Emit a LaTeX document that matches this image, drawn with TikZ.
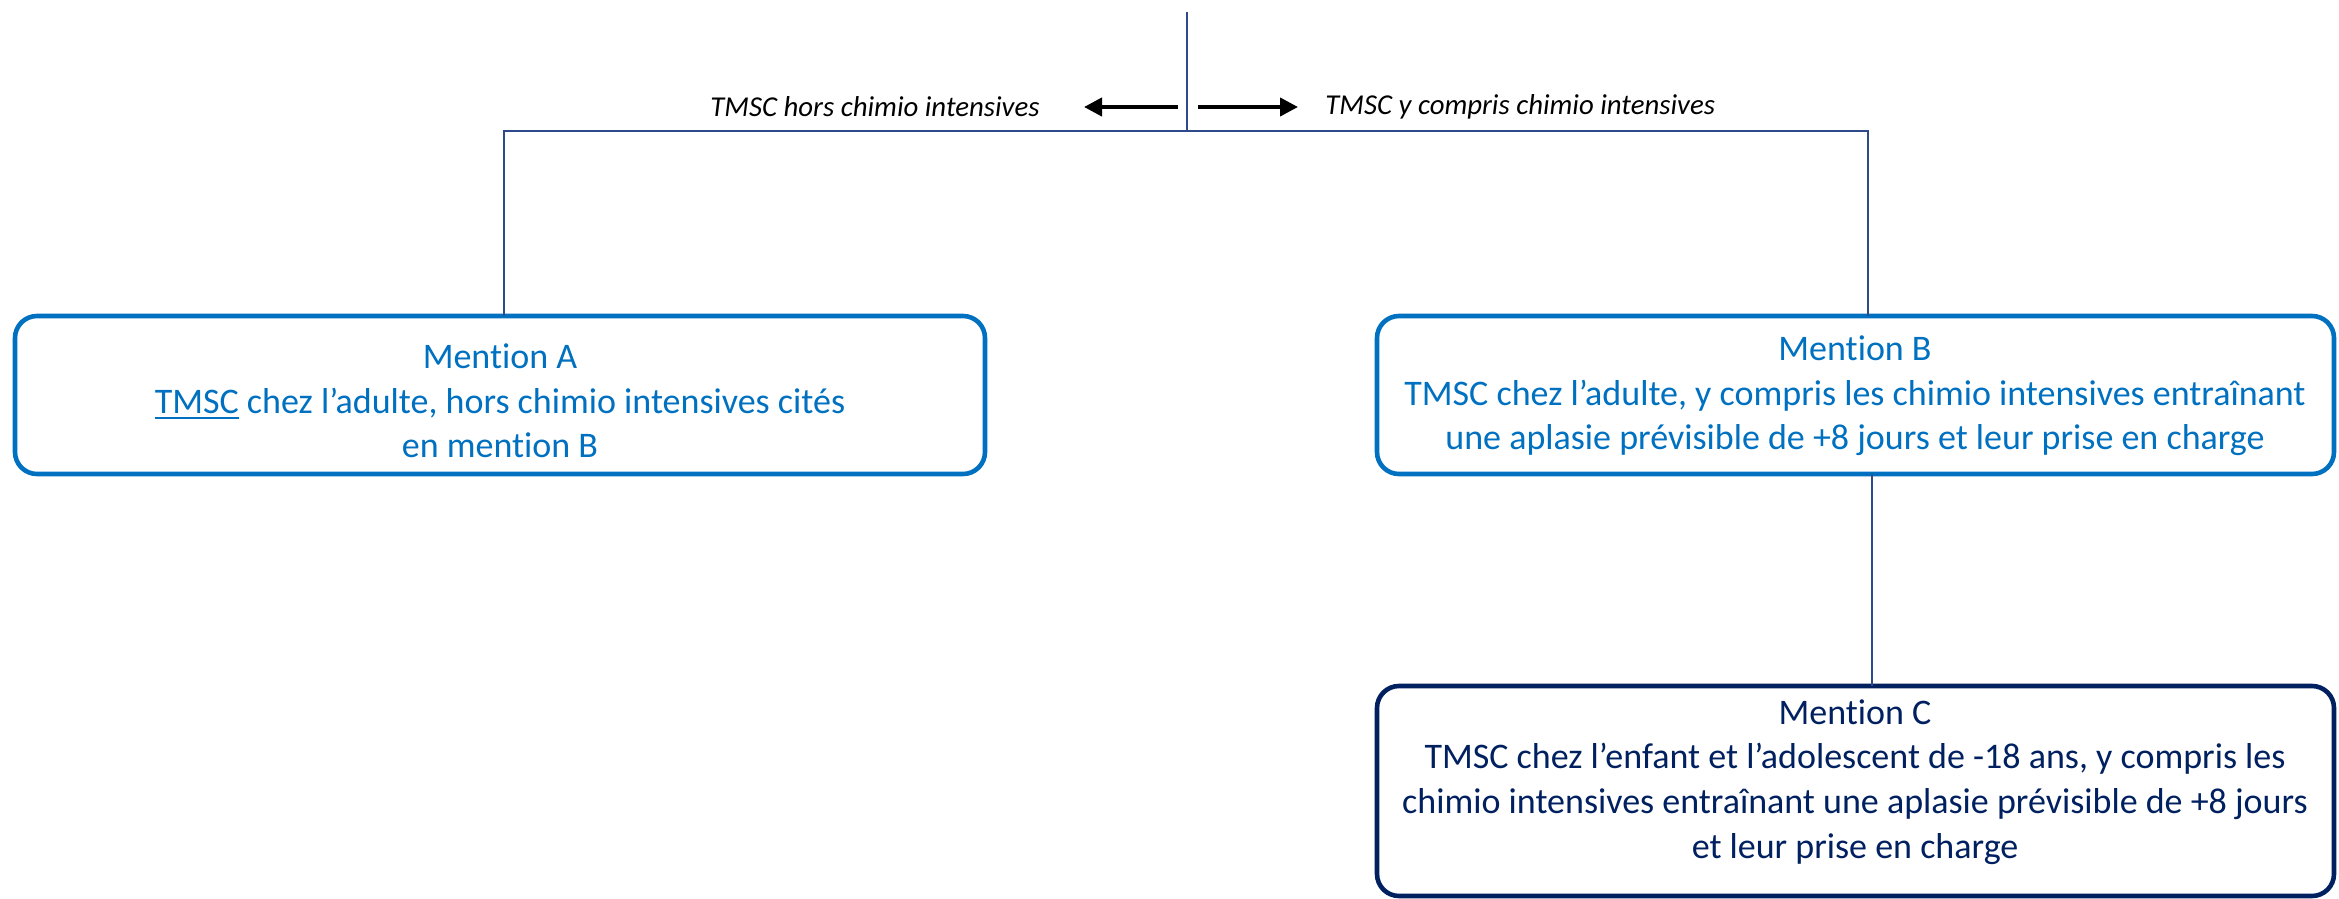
\documentclass[tikz,border=0pt]{standalone}
\usepackage{fontspec}
\setmainfont{Carlito}[Ligatures=NoCommon]
\usetikzlibrary{arrows.meta}
\definecolor{boxblue}{HTML}{0070C0}
\definecolor{navy}{HTML}{002060}
\definecolor{linecol}{HTML}{2F4A8A}
\newcommand\thickul[1]{\setbox0\hbox{#1}\rlap{\rule[-2.8pt]{\wd0}{0.9pt}}\box0\relax}
\begin{document}
\begin{tikzpicture}[x=0.5pt,y=-0.5pt,
  mbox/.style={draw=boxblue,line width=2.3pt,rounded corners=11pt},
  mtext/.style={align=center,font=\fontsize{18}{22.3}\selectfont,inner sep=0pt},
  conn/.style={draw=linecol,line width=1pt},
  lab/.style={font=\fontsize{14.4}{16}\selectfont\itshape,inner sep=0pt},
  arr/.style={line width=2pt,-{Triangle[length=9pt,width=9pt]}}]
\useasboundingbox (0,0) rectangle (2339,899);
% boxes
\draw[mbox] (15,316) rectangle (985,474);
\node[inner sep=0pt] (A) at (500,395) {};
\draw[mbox] (1377,316) rectangle (2334,474);
\node[inner sep=0pt] (B) at (1855,395) {};
\draw[mbox,draw=navy] (1377,686) rectangle (2334,896);
\node[inner sep=0pt] (C) at (1855,791) {};
% texts
\node[mtext,text=boxblue] (tA) at (500,401) {Mention A\\\thickul{TMSC} chez l’adulte, hors chimio intensives cités\\en mention B};
\node[mtext,text=boxblue] (tB) at (1855,396) {Mention B\\TMSC chez l’adulte, y compris les chimio intensives entraînant\\une aplasie prévisible de +8 jours et leur prise en charge};
\node[mtext,text=navy] (tC) at (1855,782) {Mention C\\TMSC chez l’enfant et l’adolescent de -18 ans, y compris les\\chimio intensives entraînant une aplasie prévisible de +8 jours\\et leur prise en charge};
% connectors
\coordinate (top) at (1187,12);
\coordinate (jn) at (1187,131);
\coordinate (jl) at (504,131);
\coordinate (jr) at (1868,131);
\coordinate (atop) at (504,316);
\coordinate (btop) at (1868,316);
\coordinate (bbot) at (1872,474);
\coordinate (ctop) at (1872,686);
\draw[conn] (top) -- (jn);
\draw[conn] (atop) -- (jl) -- (jr) -- (btop);
\draw[conn] (bbot) -- (ctop);
% labels and arrows
\node[lab,anchor=east] (lL) at (1040,107) {TMSC hors chimio intensives};
\node[lab,anchor=west] (lR) at (1325,107) {TMSC y compris chimio intensives};
\coordinate (al) at (1178,107);
\coordinate (ar) at (1198,107);
\draw[arr] (al) -- ([xshift=22pt]lL.east);
\draw[arr] (ar) -- ([xshift=-13.5pt]lR.west);
\end{tikzpicture}
\end{document}
